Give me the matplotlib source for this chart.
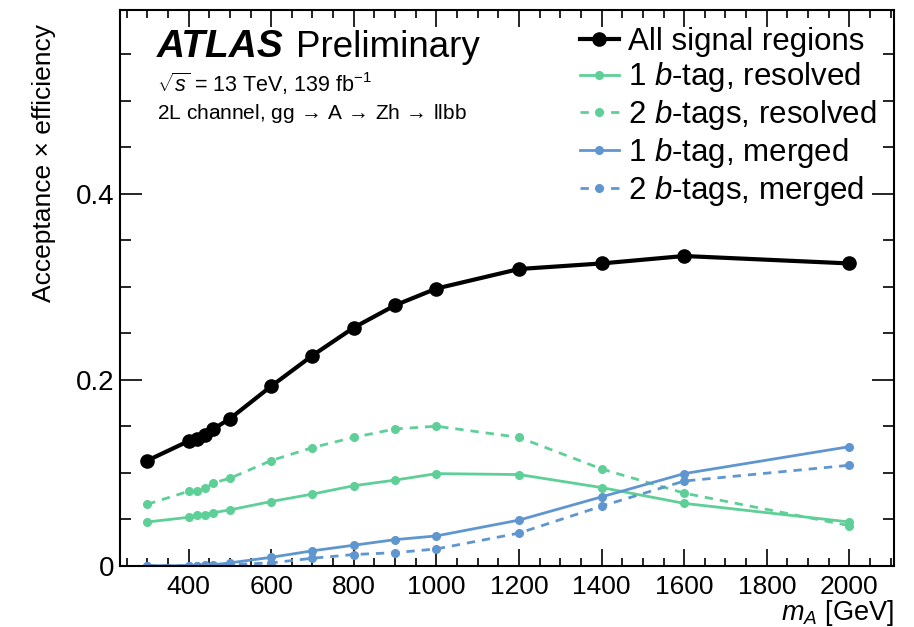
import numpy as np
import matplotlib
matplotlib.use("Agg")
import matplotlib.pyplot as plt
from matplotlib.ticker import MultipleLocator, FixedLocator

plt.rcParams["font.family"] = ["Liberation Sans", "DejaVu Sans"]
plt.rcParams["mathtext.fontset"] = "custom"
plt.rcParams["mathtext.rm"] = "Liberation Sans"
plt.rcParams["mathtext.it"] = "Liberation Sans:italic"
plt.rcParams["mathtext.bf"] = "Liberation Sans:bold"

# signal mass points [GeV]
m_A = [300, 400, 420, 440, 460, 500, 600, 700, 800, 900, 1000, 1200, 1400, 1600, 2000]

# acceptance x efficiency
all_sr = [0.113, 0.134, 0.136, 0.140, 0.147, 0.158, 0.193, 0.226, 0.256, 0.280,
          0.298, 0.319, 0.325, 0.333, 0.325]
res_1b = [0.047, 0.052, 0.054, 0.055, 0.057, 0.060, 0.069, 0.077, 0.086, 0.092,
          0.099, 0.098, 0.084, 0.067, 0.047]
res_2b = [0.066, 0.080, 0.080, 0.083, 0.089, 0.094, 0.113, 0.127, 0.138, 0.147,
          0.150, 0.138, 0.104, 0.078, 0.043]
mer_1b = [0.000, 0.000, 0.000, 0.001, 0.001, 0.003, 0.009, 0.016, 0.022, 0.028,
          0.032, 0.049, 0.074, 0.099, 0.128]
mer_2b = [0.000, 0.000, 0.000, 0.000, 0.000, 0.001, 0.003, 0.008, 0.012, 0.014,
          0.018, 0.035, 0.064, 0.091, 0.108]

green = "#5fcf98"
blue = "#6096d0"

fig = plt.figure(figsize=(9.14, 6.27), dpi=100)
ax = fig.add_axes([0.1313, 0.0978, 0.8468, 0.8862])

ax.plot(m_A, all_sr, color="black", lw=3, marker="o", ms=9.5, label="All signal regions")
ax.plot(m_A, res_1b, color=green, lw=2, marker="o", ms=5.5, label="1 $b$-tag, resolved")
ax.plot(m_A, res_2b, color=green, lw=2, ls=(0, (3, 2.5)), marker="o", ms=5.5,
        label="2 $b$-tags, resolved")
ax.plot(m_A, mer_1b, color=blue, lw=2, marker="o", ms=5.5, label="1 $b$-tag, merged")
ax.plot(m_A, mer_2b, color=blue, lw=2, ls=(0, (3, 2.5)), marker="o", ms=5.5,
        label="2 $b$-tags, merged")

ax.set_xlim(234, 2108)
ax.set_ylim(0, 0.5975)

ax.xaxis.set_major_locator(MultipleLocator(200))
ax.xaxis.set_minor_locator(MultipleLocator(50))
ax.yaxis.set_major_locator(FixedLocator([0, 0.2, 0.4]))
ax.yaxis.set_minor_locator(MultipleLocator(0.05))
ax.set_yticklabels(["0", "0.2", "0.4"])

ax.tick_params(which="both", direction="in", top=True, right=True)
ax.tick_params(axis="x", labelsize=19)
ax.tick_params(axis="y", labelsize=20)
ax.tick_params(axis="y", which="major", length=16, width=1.2)
ax.tick_params(axis="y", which="minor", length=8, width=1.2)
ax.tick_params(axis="x", which="major", length=12, width=1.2)
ax.tick_params(axis="x", which="minor", length=6, width=1.2)
ax.tick_params(axis="x", pad=7)
ax.tick_params(axis="y", pad=4)
for sp in ax.spines.values():
    sp.set_linewidth(1.5)

ax.set_xlabel("$m_A$ [GeV]", fontsize=19.5, loc="right", labelpad=-1)
ax.set_ylabel("Acceptance \u00d7 efficiency", fontsize=19, loc="top", labelpad=14)
ax.yaxis.label.set_position((0, 0.975))

ax.text(0.048, 0.915, "ATLAS", transform=ax.transAxes, fontsize=28,
        fontweight="bold", style="italic")
ax.text(0.228, 0.915, "Preliminary", transform=ax.transAxes, fontsize=26.5)
ax.text(0.048, 0.852, r"$\sqrt{s}$ = 13 TeV, 139 fb$^{-1}$", transform=ax.transAxes,
        fontsize=15.5)
ax.text(0.048, 0.804, r"2L channel, gg $\!\rightarrow\!$ A $\!\rightarrow\!$ Zh $\!\rightarrow\!$ llbb",
        transform=ax.transAxes, fontsize=15)

ax.legend(loc="upper left", bbox_to_anchor=(0.594, 0.97), frameon=False,
          fontsize=22.5, borderpad=0, borderaxespad=0, handlelength=1.25,
          handletextpad=0.3, labelspacing=0.12)

fig.savefig("out.png", dpi=100)
